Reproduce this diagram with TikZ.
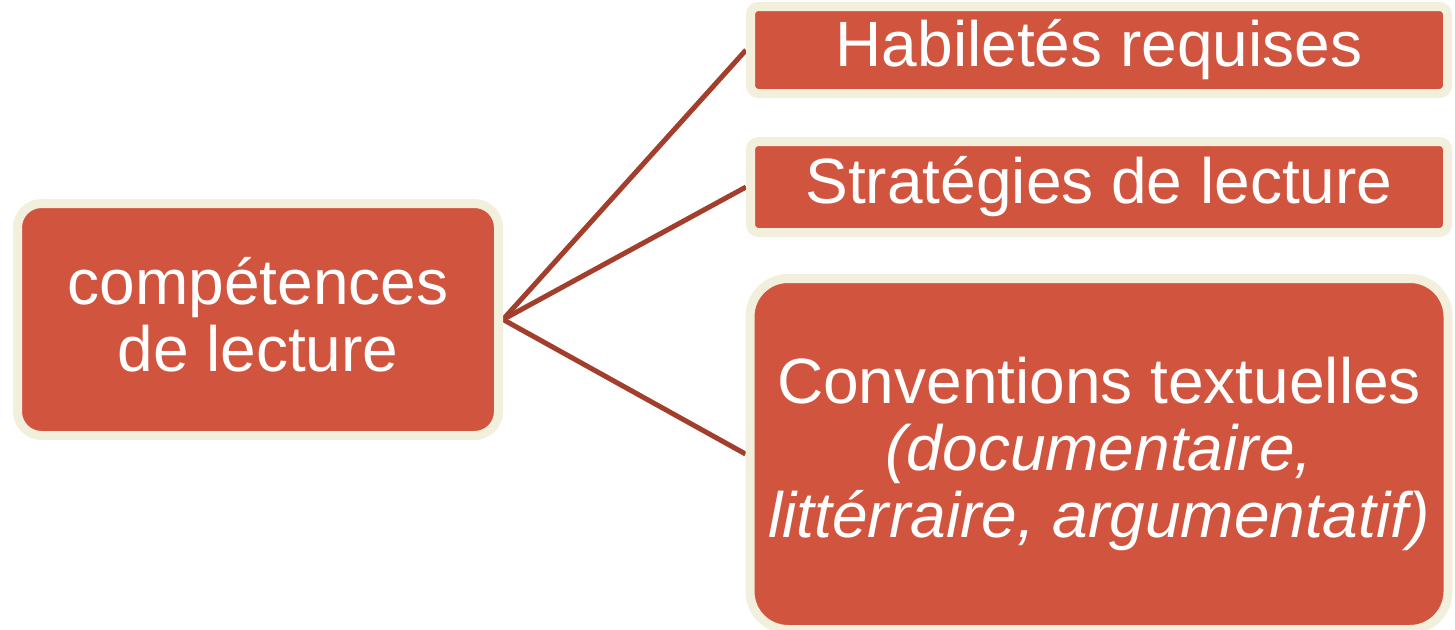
\documentclass[tikz,border=0pt]{standalone}
\usepackage{fontspec}
\setmainfont{Liberation Sans}
\usetikzlibrary{backgrounds}
\definecolor{boxred}{RGB}{209,85,62}
\definecolor{rimcream}{RGB}{242,240,220}
\definecolor{linkred}{RGB}{163,62,45}
\begin{document}
\begin{tikzpicture}[x=1pt,y=-1pt,
  tile/.style={fill=boxred, draw=rimcream, line width=9pt, text=white,
    align=center, inner sep=0pt, font=\fontsize{64}{67}\selectfont},
  link/.style={draw=linkred, line width=5pt}]
\useasboundingbox (0,0) rectangle (1455,629);

% root box (the strut lifts the two lines slightly)
\node[tile, minimum width=481pt, minimum height=232pt, rounded corners=24pt]
  (comp) at (258,319.5) {compétences\\de lecture\rule[-10pt]{0pt}{0pt}};

% branch boxes
\node[tile, minimum width=697pt, minimum height=87pt, rounded corners=8pt]
  (hab) at (1099,50) {Habiletés requises};
\node[tile, minimum width=697pt, minimum height=91pt, rounded corners=8pt]
  (strat) at (1099,187) {Stratégies de lecture};
\node[tile, minimum width=698pt, minimum height=351pt, rounded corners=38pt]
  (conv) at (1099,454) {Conventions textuelles\\\textit{(documentaire,}\\\textit{littérraire, argumentatif)}};

% connectors
\begin{pgfonlayer}{background}
\draw[link] (comp.east) -- (hab.west);
\draw[link] (comp.east) -- (strat.west);
\draw[link] (comp.east) -- (conv.west);
\end{pgfonlayer}
\end{tikzpicture}
\end{document}
